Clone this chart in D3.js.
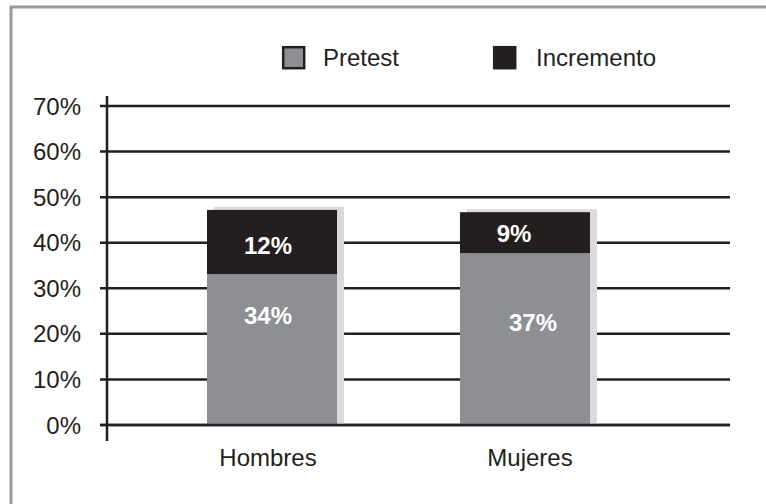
<!DOCTYPE html>
<html>
<head>
<meta charset="utf-8">
<script src="https://cdn.jsdelivr.net/npm/d3@7"></script>
<style>
  body { margin: 0; background: #fff; }
  text { font-family: "Liberation Sans", Arial, sans-serif; }
</style>
</head>
<body>
<script>
var categories = ["Hombres", "Mujeres"];
var pretest = [33.1, 37.7];
var incremento = [14.1, 9.0];
var pretestLabels = ["34%", "37%"];
var incrementoLabels = ["12%", "9%"];
var yTicks = [0, 10, 20, 30, 40, 50, 60, 70];
var seriesNames = ["Pretest", "Incremento"];

var w = 766, h = 504;
var dark = "#231f20", gray = "#8e8f93";
var fs = 24;

var svg = d3.select("body").append("svg")
    .attr("width", w)
    .attr("height", h);

// frame (top and left only, picture is cropped)
svg.append("path")
    .attr("d", "M11,504 V7 H766")
    .attr("fill", "none")
    .attr("stroke", "#9a9a9a")
    .attr("stroke-width", 3);

var y = d3.scaleLinear().domain([0, 70]).range([425, 106]);
var x = d3.scaleBand().domain(categories).range([156.4, 640.6]).paddingInner(0.486).paddingOuter(0.2);

// gridlines
svg.selectAll(".grid")
    .data(yTicks)
    .enter()
    .append("line")
    .attr("x1", 100)
    .attr("x2", 730)
    .attr("y1", function(d) { return y(d); })
    .attr("y2", function(d) { return y(d); })
    .attr("stroke", dark)
    .attr("stroke-width", 2.5);

svg.append("line")
    .attr("x1", 107).attr("x2", 107)
    .attr("y1", 96).attr("y2", 441)
    .attr("stroke", dark)
    .attr("stroke-width", 2.5);

svg.selectAll(".ylab")
    .data(yTicks)
    .enter()
    .append("text")
    .attr("x", 81)
    .attr("y", function(d) { return y(d) + 8.5; })
    .attr("text-anchor", "end")
    .attr("font-size", fs)
    .attr("fill", dark)
    .text(function(d) { return d + "%"; });

var bars = categories.map(function(c, i) {
    return { cat: c, p: pretest[i], inc: incremento[i], pl: pretestLabels[i], il: incrementoLabels[i] };
});

// shadows
svg.selectAll(".shadow")
    .data(bars)
    .enter()
    .append("rect")
    .attr("x", function(d) { return x(d.cat) + 7; })
    .attr("y", function(d) { return y(d.p + d.inc) - 3; })
    .attr("width", x.bandwidth())
    .attr("height", function(d) { return y(0) - y(d.p + d.inc) + 3; })
    .attr("fill", "#d9dadc");

svg.selectAll(".pre")
    .data(bars)
    .enter()
    .append("rect")
    .attr("x", function(d) { return x(d.cat); })
    .attr("y", function(d) { return y(d.p); })
    .attr("width", x.bandwidth())
    .attr("height", function(d) { return y(0) - y(d.p); })
    .attr("fill", gray);

svg.selectAll(".inc")
    .data(bars)
    .enter()
    .append("rect")
    .attr("x", function(d) { return x(d.cat); })
    .attr("y", function(d) { return y(d.p + d.inc); })
    .attr("width", x.bandwidth())
    .attr("height", function(d) { return y(d.p) - y(d.p + d.inc); })
    .attr("fill", dark);

// redraw 0 line over bars
svg.append("line")
    .attr("x1", 100).attr("x2", 730)
    .attr("y1", y(0)).attr("y2", y(0))
    .attr("stroke", dark)
    .attr("stroke-width", 2.5);

svg.selectAll(".plab")
    .data(bars)
    .enter()
    .append("text")
    .attr("x", function(d, i) { return x(d.cat) + x.bandwidth() / 2 + (i ? 8 : -4); })
    .attr("y", function(d, i) { return y(d.p) + (i ? 78 : 50); })
    .attr("text-anchor", "middle")
    .attr("font-size", fs)
    .attr("font-weight", "bold")
    .attr("fill", "#fff")
    .text(function(d) { return d.pl; });

svg.selectAll(".ilab")
    .data(bars)
    .enter()
    .append("text")
    .attr("x", function(d, i) { return x(d.cat) + x.bandwidth() / 2 + (i ? -11 : -4); })
    .attr("y", function(d, i) { return (y(d.p) + y(d.p + d.inc)) / 2 + (i ? 9 : 11.5); })
    .attr("text-anchor", "middle")
    .attr("font-size", fs)
    .attr("font-weight", "bold")
    .attr("fill", "#fff")
    .text(function(d) { return d.il; });

svg.selectAll(".xlab")
    .data(categories)
    .enter()
    .append("text")
    .attr("x", function(d, i) { return x(d) + x.bandwidth() / 2 + (i ? 5 : -4); })
    .attr("y", 466)
    .attr("text-anchor", "middle")
    .attr("font-size", fs)
    .attr("fill", dark)
    .text(function(d) { return d; });

// legend
var legX = [282, 493];
var leg = svg.selectAll(".leg")
    .data(seriesNames)
    .enter()
    .append("g")
    .attr("transform", function(d, i) { return "translate(" + legX[i] + ",46)"; });

leg.append("rect")
    .attr("x", 1.2).attr("y", 1.2)
    .attr("width", 21).attr("height", 21)
    .attr("fill", function(d, i) { return i ? dark : gray; })
    .attr("stroke", dark)
    .attr("stroke-width", 2.5);

leg.append("text")
    .attr("x", function(d, i) { return i ? 43 : 41; })
    .attr("y", 20)
    .attr("font-size", fs)
    .attr("fill", dark)
    .text(function(d) { return d; });
</script>
</body>
</html>
